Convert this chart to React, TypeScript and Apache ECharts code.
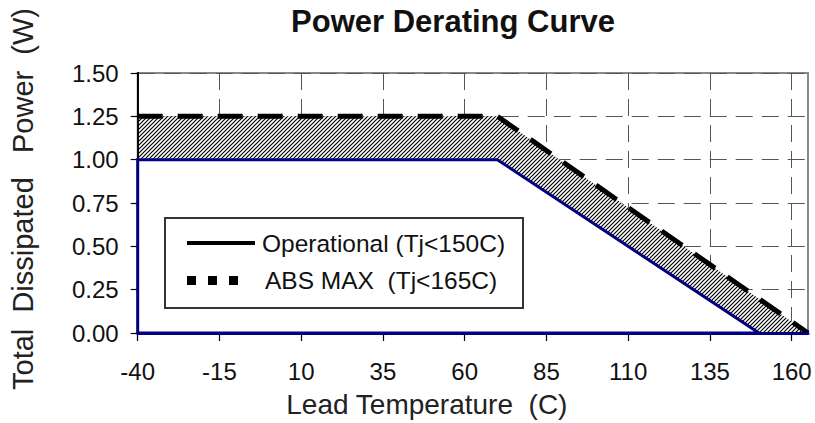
import React, { useEffect, useRef } from "react";
import * as echarts from "echarts";

// ---- data ----
const titleText = "Power Derating Curve";
const xAxisName = "Lead Temperature\u00A0 (C)";
const yAxisName = "Total\u00A0 Dissipated\u00A0\u00A0 Power\u00A0 (W)";
const seriesNames = ["Operational (Tj<150C)", "ABS MAX\u00A0 (Tj<165C)"];

const xTicks = [-40, -15, 10, 35, 60, 85, 110, 135, 160];
const xMin = -40;
const xMax = 165;
const yMin = 0;
const yMax = 1.5;
const yStep = 0.25;

// Operational curve (Tj < 150C)
const operationalTemp = [-40, 70, 150];
const operationalPower = [1.0, 1.0, 0];
// ABS MAX curve (Tj < 165C)
const absMaxTemp = [-40, 70, 165];
const absMaxPower = [1.25, 1.25, 0];

const FONT = "'Liberation Sans', Arial, sans-serif";
const NAVY = "#000080";

function makeHatch(): HTMLCanvasElement {
  const c = document.createElement("canvas");
  c.width = 4;
  c.height = 4;
  const ctx = c.getContext("2d")!;
  ctx.fillStyle = "#fff";
  ctx.fillRect(0, 0, 4, 4);
  ctx.strokeStyle = "#000";
  ctx.lineWidth = 1.2;
  ctx.beginPath();
  ctx.moveTo(0, 4);
  ctx.lineTo(4, 0);
  ctx.moveTo(-1, 1);
  ctx.lineTo(1, -1);
  ctx.moveTo(3, 5);
  ctx.lineTo(5, 3);
  ctx.stroke();
  return c;
}

export default function App() {
  const ref = useRef<HTMLDivElement>(null);

  useEffect(() => {
    if (!ref.current) return;
    const chart = echarts.init(ref.current, undefined, { renderer: "svg" });

    const absData = absMaxTemp.map((t, i) => [t, absMaxPower[i]]);
    const opPts = operationalTemp.map((t, i) => [t, operationalPower[i]]);
    // closed outline of the operational region (down to the x axis and back)
    const opData = [
      [operationalTemp[0], yMin],
      ...opPts,
      [operationalTemp[0], yMin],
    ];

    const Z = 100;
    const option: any = {
      animation: false,
      backgroundColor: "#fff",
      title: {
        text: titleText,
        left: 448,
        textAlign: "center",
        top: 1,
        textStyle: {
          fontFamily: FONT,
          fontSize: 31,
          fontWeight: "bold",
          color: "#111",
        },
      },
      grid: {
        left: 137.7,
        right: 7,
        top: 73,
        bottom: 88,
        show: true,
        borderColor: "#888",
        borderWidth: 2,
        backgroundColor: "transparent",
      },
      xAxis: [
        {
          type: "value",
          min: xMin,
          max: xMax,
          interval: 25,
          name: xAxisName,
          nameLocation: "middle",
          nameGap: 57,
          nameTextStyle: {
            fontFamily: FONT,
            fontSize: 28,
            color: "#222",
            padding: [0, 92, 0, 0],
          },
          axisLine: { show: true, onZero: false, lineStyle: { color: "#000", width: 1.5 } },
          axisTick: {
            show: true,
            length: 8,
            customValues: xTicks,
            lineStyle: { color: "#000", width: 1.2 },
          },
          axisLabel: {
            fontFamily: FONT,
            fontSize: 24,
            color: "#111",
            margin: 26,
            customValues: xTicks,
            formatter: (v: number) => (xTicks.indexOf(v) >= 0 ? String(v) : ""),
          },
          splitLine: {
            show: true,
            lineStyle: { color: "#555", width: 1, type: [17, 9] },
          },
        },
        {
          // overlay: the navy baseline drawn above the areas
          type: "value",
          min: xMin,
          max: xMax,
          interval: 25,
          position: "bottom",
          z: 3,
          axisLine: { show: true, onZero: false, lineStyle: { color: NAVY, width: 3 } },
          axisTick: { show: false },
          axisLabel: { show: false },
          splitLine: { show: false },
        },
      ],
      yAxis: [
        {
          type: "value",
          min: yMin,
          max: yMax,
          interval: yStep,
          name: yAxisName,
          nameLocation: "middle",
          nameGap: 100,
          nameTextStyle: {
            fontFamily: FONT,
            fontSize: 29,
            color: "#222",
            padding: [0, 0, 0, 8],
          },
          axisLine: { show: true, onZero: false, lineStyle: { color: "#000", width: 1.5 } },
          axisTick: { show: true, length: 7, lineStyle: { color: "#000", width: 1.2 } },
          axisLabel: {
            fontFamily: FONT,
            fontSize: 24,
            color: "#111",
            margin: 19,
            formatter: (v: number) => v.toFixed(2),
          },
          splitLine: {
            show: true,
            lineStyle: { color: "#555", width: 1, type: [17, 9] },
          },
        },
        {
          // overlay: the black y axis line drawn above the hatch
          type: "value",
          min: yMin,
          max: yMax,
          interval: yStep,
          position: "left",
          z: 3,
          axisLine: { show: true, onZero: false, lineStyle: { color: "#000", width: 1.8 } },
          axisTick: { show: false },
          axisLabel: { show: false },
          splitLine: { show: false },
        },
      ],
      series: [
        {
          name: seriesNames[1],
          type: "line",
          data: absData,
          symbol: "none",
          clip: false,
          z: 2,
          lineStyle: { color: "#000", width: 5, type: [25, 15], cap: "butt" },
          areaStyle: {
            color: { image: makeHatch(), repeat: "repeat" },
            opacity: 1,
          },
        },
        {
          name: seriesNames[0],
          type: "line",
          data: opData,
          symbol: "none",
          clip: false,
          z: 4,
          lineStyle: { color: NAVY, width: 3, join: "miter" },
          areaStyle: { color: "#fff", opacity: 1 },
        },
      ],
      graphic: {
        elements: [
          {
            type: "rect",
            z: Z,
            shape: { x: 165, y: 218, width: 358, height: 90 },
            style: { fill: "#fff", stroke: "#333", lineWidth: 2 },
          },
          {
            type: "line",
            z: Z + 1,
            shape: { x1: 187, y1: 243, x2: 255, y2: 243 },
            style: { stroke: "#000", lineWidth: 4 },
          },
          {
            type: "text",
            z: Z + 1,
            x: 262,
            y: 243,
            style: {
              text: seriesNames[0],
              font: `24.5px ${FONT}`,
              fill: "#111",
              verticalAlign: "middle",
              align: "left",
            },
          },
          { type: "rect", z: Z + 1, shape: { x: 187, y: 276, width: 9, height: 9 }, style: { fill: "#000" } },
          { type: "rect", z: Z + 1, shape: { x: 208, y: 276, width: 9, height: 9 }, style: { fill: "#000" } },
          { type: "rect", z: Z + 1, shape: { x: 229, y: 276, width: 9, height: 9 }, style: { fill: "#000" } },
          {
            type: "text",
            z: Z + 1,
            x: 265,
            y: 280,
            style: {
              text: seriesNames[1],
              font: `24.5px ${FONT}`,
              fill: "#111",
              verticalAlign: "middle",
              align: "left",
            },
          },
        ],
      },
    };

    chart.setOption(option);
    return () => chart.dispose();
  }, []);

  return (
    <div
      ref={ref}
      style={{ position: "fixed", left: 0, top: 0, width: 815, height: 423 }}
    />
  );
}
